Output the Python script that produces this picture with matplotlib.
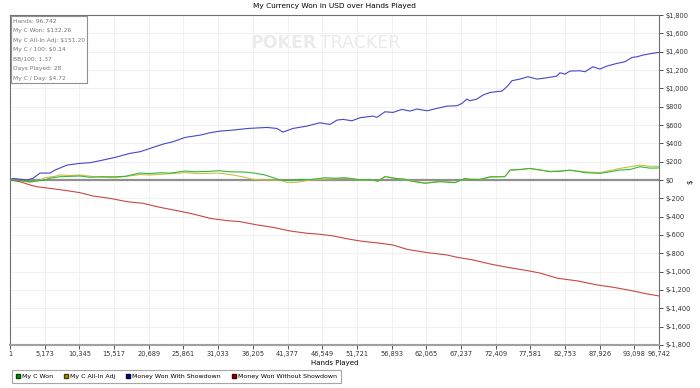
import matplotlib
matplotlib.use("Agg")
import matplotlib.pyplot as plt
import numpy as np
from matplotlib.patches import Patch

PX_TO_HANDS = 96741 / 649  # used only to convert my pixel readings to hand numbers

# values: (pixel x, dollars)
won_x = [10, 20, 30, 37, 45, 50, 60, 70, 80, 90, 100, 115, 125, 140, 150, 160, 170, 185, 195, 200,
         210, 219, 230, 245, 255, 265, 272, 280, 290, 300, 310, 325, 335, 345, 355, 360, 370, 378,
         385, 395, 405, 410, 418, 425, 440, 450, 455, 465, 470, 480, 490, 505, 510, 520, 530, 540,
         550, 560, 570, 578, 585, 600, 610, 620, 630, 640, 650, 659]
won_y = [0, -5, -18, -10, 0, 20, 36, 40, 44, 30, 36, 36, 40, 76, 70, 80, 75, 98, 90, 92,
         95, 102, 90, 87, 75, 55, 30, 0, -5, 7, 5, 25, 20, 25, 10, 0, 5, -10,
         36, 18, 10, -7, -25, -36, -18, -25, -29, 18, 5, 7, 36, 36, 109, 115, 127, 110,
         91, 95, 109, 95, 80, 73, 90, 109, 115, 145, 130, 132]

adj_x = [10, 20, 30, 40, 45, 55, 60, 70, 80, 95, 115, 130, 140, 150, 165, 185, 200, 219, 233, 245,
         253, 265, 280, 287, 295, 300, 310, 325, 345, 355, 360, 370, 378, 385, 395, 410, 425, 440,
         455, 465, 480, 490, 505, 510, 530, 550, 570, 585, 600, 620, 640, 650, 659]
adj_y = [0, -8, -25, -5, 25, 40, 55, 50, 55, 35, 25, 45, 60, 55, 65, 80, 70, 76, 55, 30,
         7, 0, 0, -25, -25, -20, 0, 10, 18, 10, -5, 5, -15, 40, 20, -5, -30, -15,
         -25, 15, 5, 30, 40, 105, 125, 95, 105, 90, 80, 127, 163, 150, 151]

sd_x = [10, 13, 27, 33, 40, 50, 55, 67, 80, 90, 100, 115, 130, 140, 150, 163, 173, 185, 200, 210,
        220, 233, 248, 267, 277, 283, 293, 307, 320, 330, 337, 343, 352, 360, 373, 377, 385, 393,
        402, 410, 417, 427, 437, 447, 457, 462, 467, 470, 477, 483, 490, 502, 507, 512, 520, 528,
        537, 547, 557, 560, 565, 570, 580, 585, 593, 600, 607, 617, 625, 632, 637, 643, 652, 659]
sd_y = [0, 18, 0, 18, 76, 76, 109, 163, 182, 189, 211, 247, 291, 309, 345, 392, 418, 465, 490, 516,
        534, 545, 563, 574, 563, 523, 563, 589, 625, 607, 654, 662, 647, 680, 698, 684, 745, 738,
        771, 753, 775, 756, 782, 807, 811, 836, 884, 865, 884, 927, 956, 971, 1018, 1084, 1102, 1127,
        1102, 1116, 1135, 1171, 1156, 1189, 1193, 1182, 1236, 1211, 1244, 1273, 1291, 1338, 1345, 1364, 1382, 1393]

nosd_x = [10, 20, 30, 37, 50, 67, 80, 93, 110, 127, 143, 160, 177, 193, 210, 227, 240, 257, 273, 290,
          307, 320, 333, 348, 360, 380, 393, 407, 427, 447, 457, 473, 490, 507, 527, 540, 558, 577,
          597, 613, 633, 647, 659]
nosd_y = [0, -18, -54, -73, -91, -116, -138, -174, -200, -236, -254, -298, -334, -370, -418, -443, -454, -490, -516, -556,
          -581, -592, -610, -643, -665, -690, -709, -756, -792, -818, -843, -872, -916, -952, -988, -1015, -1073, -1100,
          -1145, -1170, -1210, -1243, -1265]

x_ticks = [1, 5173, 10345, 15517, 20689, 25861, 31033, 36205, 41377, 46549, 51721, 56893,
           62065, 67237, 72409, 77581, 82753, 87926, 93098, 96742]
y_ticks = list(range(-1800, 1801, 200))

stats_lines = ["Hands: 96,742", "My C Won: $132.26", "My C All-In Adj: $151.20", "My C / 100: $0.14",
               "BB/100: 1.37", "Days Played: 28", "My C / Day: $4.72"]


def to_hands(xs):
    return (np.asarray(xs) - 10) * PX_TO_HANDS + 1


def money(v):
    return f"${v:,}" if v >= 0 else f"$-{abs(v):,}"


fig = plt.figure(figsize=(7, 3.88), dpi=100)
ax = fig.add_axes([0.0143, 0.111, 0.927, 0.85])

ax.plot(to_hands(won_x), won_y, color="#3cb43c", lw=0.8, zorder=4)
ax.plot(to_hands(adj_x), adj_y, color="#c8c040", lw=0.8, zorder=3)
ax.plot(to_hands(sd_x), sd_y, color="#4646c8", lw=0.8, zorder=3)
ax.plot(to_hands(nosd_x), nosd_y, color="#c84646", lw=0.8, zorder=3)
ax.axhline(0, color="#909090", lw=1.6, zorder=2)

ax.set_xlim(1, 96742)
ax.set_ylim(-1800, 1800)
ax.set_xticks(x_ticks, labels=[f"{t:,}" for t in x_ticks])
ax.set_yticks(y_ticks, labels=[money(v) for v in y_ticks])
ax.yaxis.tick_right()
ax.tick_params(labelsize=4.8, colors="#333333", length=3, width=0.6, pad=1.5)
ax.grid(color="#efefef", lw=0.6, zorder=0)
for side in ["top", "left", "right", "bottom"]:
    ax.spines[side].set_color("#707070")
ax.spines["bottom"].set_color("#a0a0a0")
ax.spines["bottom"].set_linewidth(1.5)

ax.set_title("My Currency Won in USD over Hands Played", fontsize=5.3, pad=5)
ax.set_xlabel("Hands Played", fontsize=5, labelpad=2)
fig.text(690 / 700, 1 - 182 / 388, "$", fontsize=5, rotation=90, ha="center", va="center")

# watermark
ax.text(0.37, 0.915, "POKER", transform=ax.transAxes, fontsize=12.5, fontweight="bold",
        color="#ebebeb", va="center", zorder=1)
ax.text(0.478, 0.915, "TRACKER", transform=ax.transAxes, fontsize=12.5,
        color="#ebebeb", va="center", zorder=1)

ax.text(0.004, 0.99, "\n".join(stats_lines), transform=ax.transAxes, fontsize=4.3,
        color="#777777", va="top", ha="left", linespacing=2.15, zorder=6,
        bbox=dict(boxstyle="square,pad=0.35", fc="white", ec="#909090", lw=0.8))

handles = [Patch(fc="#00a000", ec="#004000", label="My C Won"),
           Patch(fc="#a0a000", ec="#404000", label="My C All-In Adj"),
           Patch(fc="#0000a0", ec="#000040", label="Money Won With Showdown"),
           Patch(fc="#a00000", ec="#400000", label="Money Won Without Showdown")]
leg = fig.legend(handles=handles, loc="lower left", bbox_to_anchor=(0.013, 0.005), ncol=4,
                 fontsize=4.5, frameon=True, fancybox=False, edgecolor="#909090",
                 handlelength=0.7, handleheight=0.7, handletextpad=0.3, columnspacing=1.7,
                 borderpad=0.6)
leg.get_frame().set_linewidth(0.8)

fig.savefig("out.png", dpi=100)
